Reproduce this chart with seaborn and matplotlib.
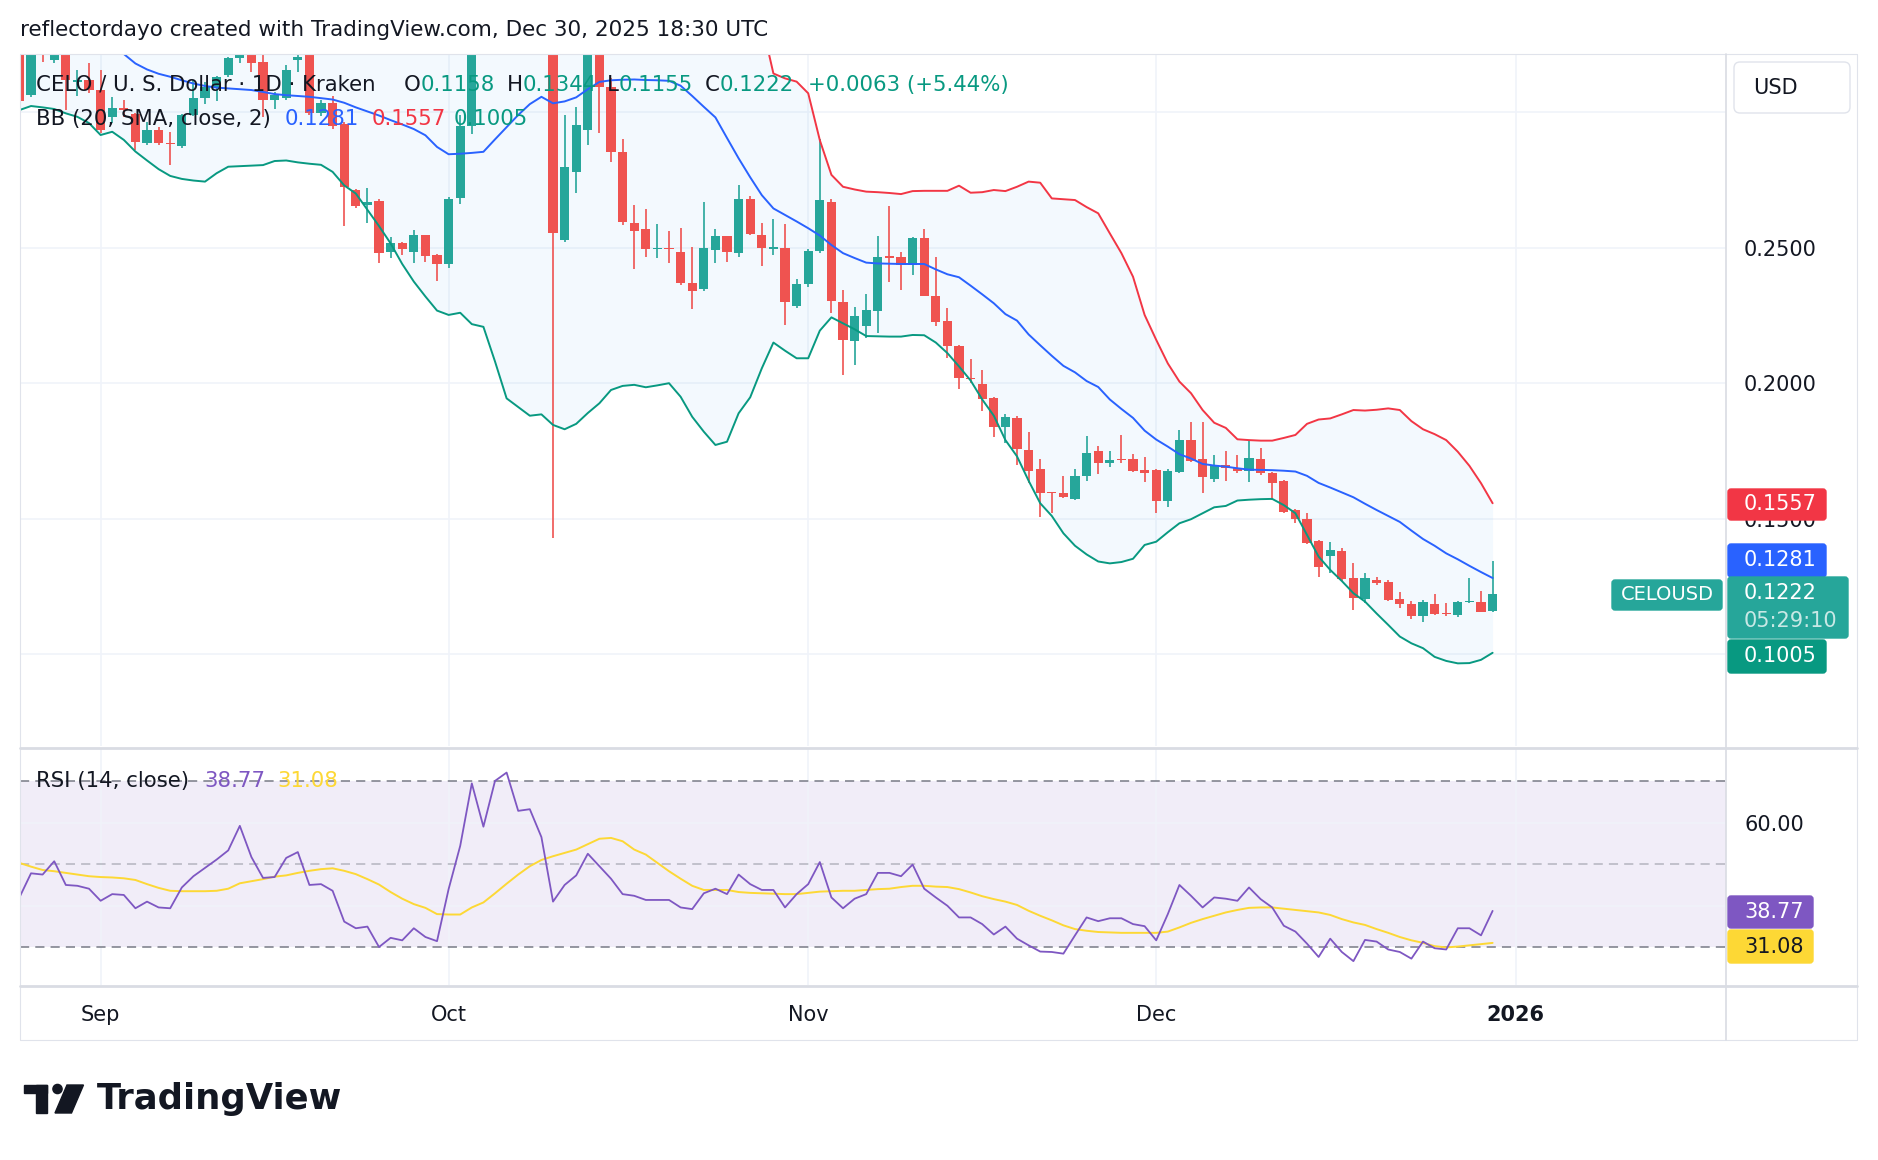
import numpy as np
import pandas as pd
import seaborn as sns
import matplotlib.pyplot as plt
import matplotlib.patches as mpatches
from matplotlib.lines import Line2D
from matplotlib.transforms import IdentityTransform

# =============================
# Data
# =============================
dates = pd.date_range("2025-08-25", "2025-12-30", freq="D")

opens = [
    0.3350, 0.3065, 0.3320, 0.3193, 0.3280, 0.3110, 0.3119,
    0.3082, 0.2983, 0.3016, 0.2995, 0.2885, 0.2934, 0.2888, 0.2875, 0.2990, 0.3051,
    0.3094, 0.3137, 0.3199, 0.3270, 0.3185, 0.3045, 0.3051, 0.3193, 0.3260, 0.2996,
    0.3035, 0.2955, 0.2713, 0.2656, 0.2672, 0.2483, 0.2518, 0.2483, 0.2546, 0.2473,
    0.2440, 0.2682, 0.2950, 0.3500, 0.3300, 0.3620, 0.3720, 0.3480, 0.3490, 0.3320,
    0.2528, 0.2778, 0.2934, 0.3300, 0.3094, 0.2854, 0.2592, 0.2569, 0.2494, 0.2497,
    0.2486, 0.2369, 0.2346, 0.2492, 0.2543, 0.2480, 0.2679, 0.2547, 0.2496, 0.2500,
    0.2286, 0.2366, 0.2488, 0.2668, 0.2301, 0.2157, 0.2211, 0.2267, 0.2470, 0.2466,
    0.2435, 0.2536, 0.2323, 0.2230, 0.2137, 0.2020, 0.1996, 0.1945, 0.1837, 0.1873,
    0.1754, 0.1682, 0.1598, 0.1594, 0.1573, 0.1659, 0.1750, 0.1707, 0.1722, 0.1719,
    0.1679, 0.1680, 0.1567, 0.1674, 0.1790, 0.1719, 0.1647, 0.1698, 0.1686, 0.1677,
    0.1719, 0.1670, 0.1639, 0.1532, 0.1498, 0.1418, 0.1364, 0.1381, 0.1280, 0.1203,
    0.1274, 0.1268, 0.1203, 0.1185, 0.1139, 0.1185, 0.1150, 0.1145, 0.1194, 0.1192,
    0.1158]
closes = [
    0.3040, 0.3300, 0.3250, 0.3280, 0.3119, 0.3118, 0.3082,
    0.2934, 0.3014, 0.3008, 0.2891, 0.2934, 0.2885, 0.2883, 0.2990, 0.3051, 0.3094,
    0.3131, 0.3199, 0.3260, 0.3180, 0.3045, 0.3063, 0.3157, 0.3205, 0.2996, 0.3035,
    0.2950, 0.2723, 0.2654, 0.2668, 0.2479, 0.2518, 0.2495, 0.2546, 0.2469, 0.2439,
    0.2680, 0.2950, 0.3500, 0.3300, 0.3620, 0.3720, 0.3480, 0.3490, 0.3320, 0.2555,
    0.2799, 0.2953, 0.3300, 0.3094, 0.2854, 0.2594, 0.2563, 0.2494, 0.2496, 0.2494,
    0.2371, 0.2340, 0.2498, 0.2543, 0.2485, 0.2679, 0.2551, 0.2498, 0.2501, 0.2301,
    0.2366, 0.2488, 0.2676, 0.2304, 0.2159, 0.2248, 0.2269, 0.2466, 0.2463, 0.2435,
    0.2536, 0.2323, 0.2227, 0.2137, 0.2018, 0.2017, 0.1941, 0.1837, 0.1877, 0.1757,
    0.1677, 0.1596, 0.1595, 0.1579, 0.1659, 0.1741, 0.1707, 0.1716, 0.1715, 0.1677,
    0.1668, 0.1567, 0.1677, 0.1790, 0.1714, 0.1652, 0.1698, 0.1686, 0.1677, 0.1723,
    0.1670, 0.1631, 0.1526, 0.1498, 0.1412, 0.1323, 0.1385, 0.1276, 0.1209, 0.1280,
    0.1264, 0.1200, 0.1184, 0.1139, 0.1194, 0.1147, 0.1148, 0.1194, 0.1197, 0.1157,
    0.1222]
highs = [
    0.3400, 0.3350, 0.3360, 0.3330, 0.3300, 0.3155, 0.3180,
    0.3156, 0.3057, 0.3045, 0.2998, 0.2965, 0.2945, 0.2928, 0.2995, 0.3120, 0.3110,
    0.3135, 0.3205, 0.3300, 0.3320, 0.3210, 0.3075, 0.3175, 0.3217, 0.3300, 0.3045,
    0.3060, 0.2965, 0.2715, 0.2719, 0.2678, 0.2538, 0.2520, 0.2567, 0.2548, 0.2478,
    0.2686, 0.2990, 0.3580, 0.3550, 0.3700, 0.3850, 0.3780, 0.3600, 0.3520, 0.3380,
    0.2990, 0.3020, 0.3380, 0.3340, 0.3126, 0.2900, 0.2657, 0.2642, 0.2587, 0.2563,
    0.2572, 0.2504, 0.2668, 0.2568, 0.2545, 0.2731, 0.2691, 0.2590, 0.2605, 0.2587,
    0.2383, 0.2495, 0.2900, 0.2679, 0.2344, 0.2283, 0.2328, 0.2543, 0.2654, 0.2485,
    0.2540, 0.2569, 0.2467, 0.2278, 0.2140, 0.2088, 0.2048, 0.1948, 0.1888, 0.1878,
    0.1821, 0.1720, 0.1600, 0.1658, 0.1682, 0.1805, 0.1768, 0.1750, 0.1809, 0.1738,
    0.1727, 0.1683, 0.1682, 0.1827, 0.1858, 0.1858, 0.1735, 0.1751, 0.1735, 0.1790,
    0.1760, 0.1672, 0.1641, 0.1535, 0.1520, 0.1420, 0.1413, 0.1391, 0.1335, 0.1301,
    0.1286, 0.1274, 0.1228, 0.1197, 0.1200, 0.1222, 0.1188, 0.1197, 0.1280, 0.1233,
    0.1344]
lows = [
    0.3015, 0.3055, 0.3186, 0.3180, 0.3008, 0.3060, 0.3070,
    0.2922, 0.2959, 0.2983, 0.2860, 0.2878, 0.2879, 0.2805, 0.2868, 0.2985, 0.3030,
    0.3040, 0.3130, 0.3180, 0.3150, 0.2984, 0.3013, 0.3045, 0.3149, 0.2990, 0.2985,
    0.2940, 0.2582, 0.2645, 0.2590, 0.2445, 0.2461, 0.2473, 0.2442, 0.2448, 0.2378,
    0.2424, 0.2660, 0.2920, 0.3250, 0.3280, 0.3550, 0.3420, 0.3380, 0.3260, 0.1428,
    0.2520, 0.2701, 0.2879, 0.2922, 0.2817, 0.2583, 0.2420, 0.2464, 0.2463, 0.2442,
    0.2362, 0.2275, 0.2340, 0.2442, 0.2448, 0.2465, 0.2548, 0.2432, 0.2473, 0.2215,
    0.2276, 0.2355, 0.2480, 0.2258, 0.2030, 0.2067, 0.2166, 0.2184, 0.2374, 0.2345,
    0.2399, 0.2320, 0.2212, 0.2092, 0.1977, 0.2000, 0.1896, 0.1803, 0.1780, 0.1698,
    0.1631, 0.1505, 0.1520, 0.1575, 0.1569, 0.1640, 0.1665, 0.1690, 0.1707, 0.1672,
    0.1637, 0.1520, 0.1542, 0.1668, 0.1711, 0.1596, 0.1637, 0.1640, 0.1670, 0.1637,
    0.1661, 0.1569, 0.1522, 0.1483, 0.1405, 0.1286, 0.1301, 0.1270, 0.1163, 0.1188,
    0.1255, 0.1198, 0.1169, 0.1129, 0.1120, 0.1145, 0.1141, 0.1136, 0.1188, 0.1155,
    0.1155]

bb_mid = [
    0.3520, 0.3490, 0.3460, 0.3430, 0.3390, 0.3350, 0.3310,
    0.3270, 0.3240, 0.3215, 0.3180, 0.3158, 0.3142, 0.3131, 0.3118, 0.3106, 0.3097,
    0.3091, 0.3088, 0.3085, 0.3082, 0.3075, 0.3067, 0.3063, 0.3060, 0.3057, 0.3052,
    0.3047, 0.3035, 0.3018, 0.3003, 0.2988, 0.2971, 0.2955, 0.2938, 0.2915, 0.2872,
    0.2845, 0.2847, 0.2850, 0.2854, 0.2900, 0.2945, 0.2990, 0.3030, 0.3057, 0.3033,
    0.3040, 0.3055, 0.3085, 0.3112, 0.3118, 0.3120, 0.3121, 0.3119, 0.3118, 0.3116,
    0.3098, 0.3060, 0.3020, 0.2981, 0.2905, 0.2830, 0.2760, 0.2694, 0.2645, 0.2621,
    0.2597, 0.2572, 0.2545, 0.2510, 0.2480, 0.2462, 0.2445, 0.2442, 0.2441, 0.2440,
    0.2440, 0.2440, 0.2420, 0.2402, 0.2391, 0.2360, 0.2328, 0.2295, 0.2255, 0.2231,
    0.2180, 0.2140, 0.2101, 0.2064, 0.2040, 0.2008, 0.1986, 0.1940, 0.1905, 0.1872,
    0.1825, 0.1792, 0.1766, 0.1738, 0.1722, 0.1702, 0.1696, 0.1692, 0.1686, 0.1681,
    0.1680, 0.1679, 0.1677, 0.1674, 0.1658, 0.1632, 0.1615, 0.1597, 0.1579, 0.1555,
    0.1532, 0.1510, 0.1488, 0.1456, 0.1425, 0.1400, 0.1372, 0.1350, 0.1326, 0.1303,
    0.1281]
bb_upper = [
    0.4030, 0.3960, 0.3900, 0.3850, 0.3780, 0.3720, 0.3660,
    0.3620, 0.3550, 0.3530, 0.3500, 0.3490, 0.3490, 0.3500, 0.3480, 0.3460, 0.3450,
    0.3410, 0.3380, 0.3370, 0.3360, 0.3350, 0.3310, 0.3300, 0.3310, 0.3300, 0.3300,
    0.3310, 0.3340, 0.3340, 0.3370, 0.3400, 0.3430, 0.3470, 0.3500, 0.3510, 0.3480,
    0.3440, 0.3430, 0.3480, 0.3500, 0.3720, 0.3950, 0.4070, 0.4180, 0.4230, 0.4220,
    0.4250, 0.4260, 0.4280, 0.4300, 0.4260, 0.4250, 0.4250, 0.4250, 0.4240, 0.4230,
    0.4250, 0.4240, 0.4220, 0.4190, 0.4030, 0.3770, 0.3570, 0.3330, 0.3143, 0.3125,
    0.3113, 0.3070, 0.2897, 0.2769, 0.2725, 0.2715, 0.2707, 0.2705, 0.2702, 0.2698,
    0.2709, 0.2710, 0.2710, 0.2710, 0.2729, 0.2703, 0.2705, 0.2713, 0.2709, 0.2725,
    0.2744, 0.2740, 0.2682, 0.2679, 0.2676, 0.2650, 0.2627, 0.2553, 0.2480, 0.2393,
    0.2252, 0.2160, 0.2073, 0.2006, 0.1963, 0.1901, 0.1854, 0.1835, 0.1793, 0.1790,
    0.1788, 0.1788, 0.1798, 0.1809, 0.1850, 0.1866, 0.1870, 0.1885, 0.1901, 0.1899,
    0.1902, 0.1907, 0.1901, 0.1860, 0.1830, 0.1812, 0.1790, 0.1747, 0.1695, 0.1631,
    0.1557]
bb_lower = [
    0.3008, 0.3023, 0.3018, 0.3012, 0.2996, 0.2983, 0.2960,
    0.2916, 0.2928, 0.2898, 0.2855, 0.2822, 0.2790, 0.2765, 0.2754, 0.2748, 0.2744,
    0.2775, 0.2799, 0.2801, 0.2803, 0.2805, 0.2820, 0.2822, 0.2815, 0.2810, 0.2806,
    0.2780, 0.2730, 0.2700, 0.2640, 0.2580, 0.2516, 0.2440, 0.2375, 0.2320, 0.2268,
    0.2252, 0.2260, 0.2218, 0.2208, 0.2080, 0.1944, 0.1912, 0.1880, 0.1885, 0.1846,
    0.1830, 0.1850, 0.1890, 0.1926, 0.1975, 0.1990, 0.1994, 0.1985, 0.1992, 0.2000,
    0.1950, 0.1876, 0.1821, 0.1772, 0.1784, 0.1889, 0.1948, 0.2055, 0.2150, 0.2120,
    0.2092, 0.2092, 0.2194, 0.2243, 0.2221, 0.2199, 0.2174, 0.2173, 0.2172, 0.2172,
    0.2178, 0.2177, 0.2150, 0.2111, 0.2062, 0.2010, 0.1940, 0.1880, 0.1790, 0.1730,
    0.1640, 0.1557, 0.1510, 0.1446, 0.1400, 0.1368, 0.1342, 0.1335, 0.1340, 0.1352,
    0.1403, 0.1415, 0.1450, 0.1483, 0.1498, 0.1520, 0.1542, 0.1547, 0.1567, 0.1570,
    0.1572, 0.1573, 0.1550, 0.1520, 0.1440, 0.1360, 0.1311, 0.1270, 0.1225, 0.1194,
    0.1150, 0.1108, 0.1065, 0.1040, 0.1022, 0.0990, 0.0975, 0.0966, 0.0967, 0.0979,
    0.1005]

rsi = [
    42.0, 47.8, 47.5, 50.7, 45.0, 44.8, 44.1,
    41.2, 42.8, 42.6, 39.4, 41.0, 39.6, 39.4, 44.4, 47.1, 49.1,
    51.1, 53.3, 59.2, 51.7, 46.7, 46.9, 51.5, 52.9, 45.0, 45.2,
    43.6, 36.2, 34.6, 35.0, 30.1, 32.3, 31.7, 34.6, 32.5, 31.5,
    44.0, 54.4, 69.4, 59.0, 70.0, 72.0, 62.8, 63.2, 56.5, 41.0,
    45.0, 47.3, 52.5, 49.5, 46.5, 42.8, 42.4, 41.4, 41.4, 41.4,
    39.6, 39.2, 43.0, 44.1, 42.8, 47.5, 45.2, 43.8, 43.8, 39.6,
    42.8, 45.2, 50.5, 42.0, 39.4, 41.7, 42.8, 47.9, 47.9, 47.1,
    49.9, 44.1, 42.0, 40.0, 37.2, 37.2, 35.6, 33.1, 35.0, 32.1,
    30.5, 29.0, 28.9, 28.5, 32.9, 37.2, 36.3, 37.0, 37.0, 35.6,
    35.1, 31.7, 38.0, 45.0, 42.4, 39.6, 42.0, 41.7, 41.2, 44.4,
    41.6, 39.6, 35.2, 33.8, 30.9, 27.7, 32.1, 28.9, 26.7, 31.8,
    31.4, 29.5, 28.9, 27.3, 31.4, 29.8, 29.5, 34.6, 34.6, 32.9,
    38.77]
rsi_ma = [
    50.3, 49.4, 48.6, 48.3, 47.9, 47.5, 47.1,
    46.9, 46.8, 46.6, 46.2, 45.2, 44.3, 43.6, 43.5, 43.5, 43.5,
    43.6, 44.1, 45.4, 45.9, 46.4, 47.0, 47.3, 47.9, 48.4, 48.8,
    49.0, 48.4, 47.6, 46.4, 45.1, 43.3, 41.7, 40.4, 39.5, 38.0,
    37.9, 37.9, 39.6, 40.8, 43.0, 45.3, 47.5, 49.5, 51.0, 51.9,
    52.7, 53.5, 54.8, 56.1, 56.3, 55.5, 53.5, 52.3, 50.3, 48.3,
    46.5, 44.8, 43.8, 43.8, 43.8, 43.3, 43.1, 43.0, 42.9, 42.8,
    42.8, 43.1, 43.4, 43.5, 43.6, 43.6, 43.8, 44.0, 44.1, 44.5,
    44.8, 44.8, 44.6, 44.5, 44.0, 43.2, 42.3, 41.6, 41.0, 40.2,
    38.8, 37.6, 36.5, 35.3, 34.4, 34.0, 33.7, 33.6, 33.5, 33.5,
    33.5, 33.5, 33.8, 34.8, 35.9, 36.8, 37.6, 38.4, 39.0, 39.5,
    39.6, 39.6, 39.3, 39.0, 38.7, 38.4, 37.8, 36.8, 36.0, 35.4,
    34.4, 33.5, 32.5, 31.7, 31.1, 30.3, 30.0, 30.2, 30.5, 30.8,
    31.08]

month_starts = ["2025-09-01", "2025-10-01", "2025-11-01", "2025-12-01", "2026-01-01"]
month_labels = ["Sep", "Oct", "Nov", "Dec", "2026"]
price_ticks = [0.10, 0.15, 0.20, 0.25, 0.30]
price_tick_labels = ["", "0.1500", "0.2000", "0.2500", ""]
rsi_ticks = [40, 60]
rsi_tick_labels = ["", "60.00"]

# =============================
# Style
# =============================
W, H = 1878, 1160
GREEN = "#26A69A"
RED = "#EF5350"
TXT = "#131722"
GRID = "#F0F3FA"
BORDER = "#E0E3EB"
AXFS = 15      # axis label size
LEGFS = 15.3   # pane legend size

sns.set_theme(style="white")
plt.rcParams["font.family"] = ["DejaVu Sans"]

origin = pd.Timestamp("2025-09-01")
x = np.array((dates - origin).days, dtype=float)
month_x = [(pd.Timestamp(m) - origin).days for m in month_starts]
o = np.array(opens)
c = np.array(closes)
hi = np.array(highs)
lo = np.array(lows)
xlim = (-6.95, 140.12)

fig = plt.figure(figsize=(W / 100, H / 100), dpi=100)
fig.patch.set_facecolor("white")
ax = fig.add_axes([20 / W, 1 - 746 / H, 1706 / W, 692 / H])
ax_r = fig.add_axes([20 / W, 1 - 985 / H, 1706 / W, 236 / H])

# =============================
# Price pane
# =============================
ax.fill_between(x, bb_lower, bb_upper, color="#2196F3", alpha=0.05, lw=0, zorder=1)
up = c >= o
cols = np.where(up, GREEN, RED)
ax.vlines(x, lo, hi, colors=cols, lw=1.2, zorder=3)
ax.bar(x, np.maximum(np.abs(c - o), 0.0004), bottom=np.minimum(o, c),
       width=0.8, color=cols, lw=0, zorder=3)
sns.lineplot(x=x, y=bb_mid, ax=ax, color="#2962FF", lw=1.4, estimator=None, zorder=4)
sns.lineplot(x=x, y=bb_upper, ax=ax, color="#F23645", lw=1.4, estimator=None, zorder=4)
sns.lineplot(x=x, y=bb_lower, ax=ax, color="#089981", lw=1.4, estimator=None, zorder=4)

ax.set_xlim(*xlim)
ax.set_ylim(0.0661, 0.3215)
ax.set_yticks(price_ticks)
ax.set_yticklabels(price_tick_labels)
ax.yaxis.tick_right()
ax.set_xticks(month_x)
ax.tick_params(axis="x", length=0, labelbottom=False)
ax.tick_params(axis="y", length=0, pad=13, labelsize=AXFS, labelcolor=TXT)
ax.grid(True, color=GRID, lw=1.2)
ax.set_axisbelow(True)
ax.set_xlabel("")
ax.set_ylabel("")
for s in ax.spines.values():
    s.set_visible(False)

# =============================
# RSI pane
# =============================
ax_r.axhspan(30, 70, color="#7E57C2", alpha=0.1, lw=0, zorder=0)
for lvl, a in [(70, 1.0), (30, 1.0), (50, 0.5)]:
    ax_r.axhline(lvl, color="#787B86", alpha=a, lw=1.1, ls=(0, (6, 4)), zorder=1)
sns.lineplot(x=x, y=rsi, ax=ax_r, color="#7E57C2", lw=1.3, estimator=None, zorder=3)
sns.lineplot(x=x, y=rsi_ma, ax=ax_r, color="#FDD835", lw=1.4, estimator=None, zorder=2)
ax_r.set_xlim(*xlim)
ax_r.set_ylim(20.97, 77.66)
ax_r.set_yticks(rsi_ticks)
ax_r.set_yticklabels(rsi_tick_labels)
ax_r.yaxis.tick_right()
ax_r.set_xticks(month_x)
ax_r.set_xticklabels(month_labels)
ax_r.tick_params(axis="x", length=0, pad=14.5, labelsize=AXFS, labelcolor=TXT)
ax_r.tick_params(axis="y", length=0, pad=13, labelsize=AXFS, labelcolor=TXT)
ax_r.get_xticklabels()[-1].set_fontweight("bold")
ax_r.grid(True, color=GRID, lw=1.2)
ax_r.set_axisbelow(True)
ax_r.set_xlabel("")
ax_r.set_ylabel("")
for s in ax_r.spines.values():
    s.set_visible(False)

# =============================
# Overlay helpers (pixel coords, y from top)
# =============================
ID = IdentityTransform()
renderer = fig.canvas.get_renderer()


def ptext(px, py, s, color=TXT, size=AXFS, weight="normal", ha="left", alpha=1.0):
    return fig.text(px, H - py, s, transform=ID, color=color, fontsize=size,
                    fontweight=weight, ha=ha, va="center", alpha=alpha)


def run(px, py, parts, size=LEGFS):
    for s, col in parts:
        t = ptext(px, py, s, color=col, size=size)
        px += t.get_window_extent(renderer).width
    return px


def box(x0, y0, x1, y1, color, edge=None, r=3):
    p = mpatches.FancyBboxPatch((x0, H - y1), x1 - x0, y1 - y0,
                                boxstyle=f"round,pad=0,rounding_size={r}",
                                transform=ID, facecolor=color,
                                edgecolor=edge if edge else color, lw=1)
    fig.add_artist(p)


def line(xs, ys, lw=1.0, color=BORDER):
    fig.add_artist(Line2D(xs, [H - y for y in ys], transform=ID, lw=lw, color=color))


# frame and separators
line([20, 1857], [54, 54], 0.8)
line([20, 20], [54, 1040], 0.8)
line([1857, 1857], [54, 1040], 0.8)
line([20, 1857], [1040, 1040], 0.8)
line([20, 1857], [747.5, 747.5], 2.0, "#D9DCE3")
line([20, 1857], [985.5, 985.5], 2.0, "#D9DCE3")
line([1726, 1726], [54, 1040], 1.2, "#D9DCE3")

# header
ptext(20, 30, "reflectordayo created with TradingView.com, Dec 30, 2025 18:30 UTC", size=15.5)

# legends
TEAL = "#089981"
ptext(36, 85, "CELO / U. S. Dollar · 1D · Kraken", size=LEGFS)
run(404, 85, [("O", TXT), ("0.1158", TEAL)])
run(507, 85, [("H", TXT), ("0.1344", TEAL)])
run(607, 85, [("L", TXT), ("0.1155", TEAL)])
run(705, 85, [("C", TXT), ("0.1222", TEAL)])
ptext(808, 85, "+0.0063 (+5.44%)", color=TEAL, size=LEGFS)
ptext(36, 119, "BB (20, SMA, close, 2)", size=LEGFS)
ptext(285, 119, "0.1281", color="#2962FF", size=LEGFS)
ptext(372, 119, "0.1557", color="#F23645", size=LEGFS)
ptext(454, 119, "0.1005", color=TEAL, size=LEGFS)
ptext(36, 781, "RSI (14, close)", size=LEGFS)
ptext(204, 781, "38.77", color="#7E57C2", size=LEGFS)
ptext(277, 781, "31.08", color="#FDD835", size=LEGFS)

# price scale labels
box(1734, 62, 1850, 113, "white", edge=BORDER, r=6)
ptext(1753, 88, "USD")
box(1728, 489, 1826, 520, "#F23645")
ptext(1744, 504, "0.1557", color="white")
box(1728, 544, 1826, 577, "#2962FF")
ptext(1744, 560, "0.1281", color="white")
box(1728, 577, 1848, 638, GREEN)
ptext(1744, 593, "0.1222", color="white")
ptext(1744, 621, "05:29:10", color="white", alpha=0.75)
box(1728, 640, 1826, 673, TEAL)
ptext(1744, 656, "0.1005", color="white")
box(1612, 580, 1722, 610, GREEN)
ptext(1667, 595, "CELOUSD", color="white", size=14, ha="center")

# RSI scale labels
box(1728, 896, 1813, 928, "#7E57C2")
ptext(1744, 912, "38.77", color="white")
box(1728, 930, 1813, 963, "#FDD835")
ptext(1744, 947, "31.08", color=TXT)

# TradingView logo
LOGO = "#131722"
fig.add_artist(mpatches.Rectangle((24, H - 1093), 23, 8, transform=ID, color=LOGO))
fig.add_artist(mpatches.Rectangle((35.5, H - 1113), 11.5, 28, transform=ID, color=LOGO))
fig.add_artist(mpatches.Circle((57.5, H - 1089), 4.6, transform=ID, color=LOGO))
fig.add_artist(mpatches.Polygon([(67, H - 1085), (83.5, H - 1085), (71.5, H - 1113), (55, H - 1113)],
                                closed=True, transform=ID, color=LOGO))
ptext(97, 1099, "TradingView", color=LOGO, size=25.5, weight="bold")

plt.savefig("out.png", dpi=100, facecolor="white")
